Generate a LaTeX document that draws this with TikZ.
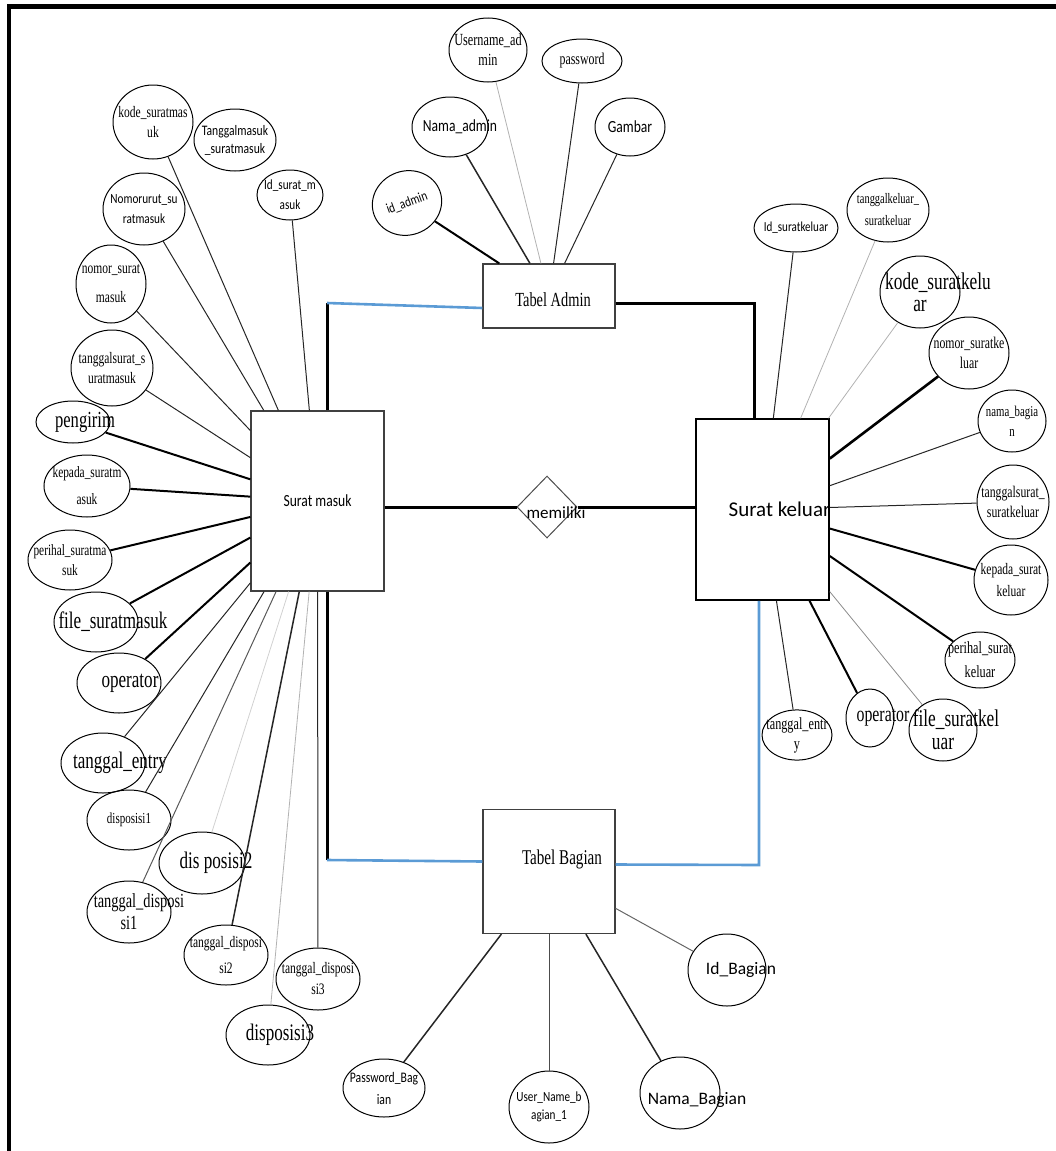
\documentclass[tikz,border=0pt]{standalone}
\usepackage{fontspec}
\setmainfont{Liberation Serif}
\newfontfamily\nserif[FakeStretch=0.72]{Liberation Serif}
\newfontfamily\nsans[FakeStretch=0.8]{Carlito}
\newfontfamily\wsans{Carlito}
\usetikzlibrary{shapes.geometric}
\definecolor{relblue}{HTML}{5B9BD5}
\newcommand{\fz}[2]{\fontsize{#1}{#2}\selectfont}
\newcommand{\lab}[1]{\makebox[0pt]{#1}}
\newcommand{\off}[3]{\makebox[0pt]{\hspace*{#1}\raisebox{#2}[\height][\depth]{#3}}}

\begin{document}
\begin{tikzpicture}[x=1pt,y=-1pt]
\useasboundingbox (0,0) rectangle (1056,1151);

\tikzstyle{attr}=[ellipse,draw,line width=1,inner sep=0pt,align=center]
\tikzstyle{entity}=[rectangle,draw=black!75,line width=1.2,inner sep=0pt]
\tikzstyle{ln}=[black!85,line width=1]
\tikzstyle{lnm}=[black!85,line width=1.5]
\tikzstyle{lnb}=[black,line width=2]
\tikzstyle{lnl}=[black!30,line width=0.8]
\tikzstyle{rel}=[black,line width=3]
\tikzstyle{relb}=[relblue,line width=2.6]

% frame
\draw[line width=4.5] (9,1151) -- (9,6.5) -- (1056,6.5);

% Tabel Admin
\node[entity,minimum width=132,minimum height=64,font={\nserif\fz{20}{22}}] (TA) at (549,296) {\off{8pt}{-4pt}{Tabel Admin}};
\node[attr,minimum width=70,minimum height=64,rotate=20,font={\nsans\fz{14}{16}}] (A1) at (407,203) {\lab{id\_admin}};
\draw[lnb] (A1) -- (TA);
\node[attr,minimum width=76,minimum height=60,font={\nsans\fz{17}{19}}] (A2) at (450,127) {\off{20pt}{0pt}{Nama\_admin}};
\draw[lnm] (A2) -- (TA);
\node[attr,minimum width=78,minimum height=64,font={\nserif\fz{17}{20}}] (A3) at (488,50) {\lab{Username\_ad}\\\lab{min}};
\draw[lnl] (A3) -- (TA);
\node[attr,minimum width=80,minimum height=44,font={\nserif\fz{16.5}{18}}] (A4) at (582,61) {\lab{password}};
\draw[ln] (A4) -- (TA);
\node[attr,minimum width=70,minimum height=58,font={\nsans\fz{17}{19}}] (A5) at (630,127) {\lab{Gambar}};
\draw[ln] (A5) -- (TA);

% Surat masuk
\node[entity,minimum width=133,minimum height=180,font={\nsans\fz{17}{19}}] (SM) at (317.5,501) {\lab{Surat masuk}};
\node[attr,minimum width=80,minimum height=74,font={\nserif\fz{16}{20}}] (M1) at (153,122) {\lab{kode\_suratmas}\\\lab{uk}};
\draw[ln] (M1) -- (SM);
\node[attr,minimum width=82,minimum height=62,font={\nsans\fz{14.5}{18}}] (M2) at (235,140) {\lab{Tanggalmasuk}\\\lab{\_suratmasuk}};
\node[attr,minimum width=66,minimum height=50,font={\nsans\fz{14}{20}}] (M3) at (290,195) {\lab{Id\_surat\_m}\\\lab{asuk}};
\draw[ln] (M3) -- (SM);
\node[attr,minimum width=82,minimum height=72,font={\nsans\fz{14}{20}}] (M4) at (144,209) {\lab{Nomorurut\_su}\\\lab{ratmasuk}};
\draw[ln] (M4) -- (SM);
\node[attr,minimum width=70,minimum height=78,font={\nserif\fz{16}{29}}] (M5) at (111,284) {\lab{nomor\_surat}\\\lab{masuk}};
\draw[ln] (M5) -- (SM);
\node[attr,minimum width=82,minimum height=76,font={\nserif\fz{16}{20}}] (M6) at (112,368) {\lab{tanggalsurat\_s}\\\lab{uratmasuk}};
\draw[ln] (M6) -- (SM);
\node[attr,minimum width=74,minimum height=42,font={\nserif\fz{23}{25}}] (M7) at (73,422) {\off{24pt}{0pt}{pengirim}};
\draw[lnb] (M7) -- (SM);
\node[attr,minimum width=86,minimum height=62,font={\nserif\fz{15.8}{27}}] (M8) at (87,486) {\lab{kepada\_suratm}\\\lab{asuk}};
\draw[lnb] (M8) -- (SM);
\node[attr,minimum width=84,minimum height=60,font={\nserif\fz{15.7}{20}}] (M9) at (70,560) {\lab{perihal\_suratma}\\\lab{suk}};
\draw[lnb] (M9) -- (SM);
\node[attr,minimum width=84,minimum height=60,font={\nserif\fz{23.7}{25}}] (M10) at (96,622) {\off{34pt}{0pt}{file\_suratmasuk}};
\draw[lnb] (M10) -- (SM);
\node[attr,minimum width=84,minimum height=60,font={\nserif\fz{23.7}{25}}] (M11) at (119,683) {\off{22pt}{0pt}{operator}};
\draw[lnb] (M11) -- (SM);
\node[attr,minimum width=84,minimum height=60,font={\nserif\fz{23.7}{25}}] (M12) at (103,763) {\off{34pt}{0pt}{tanggal\_entry}};
\draw[ln] (M12) -- (SM);
\node[attr,minimum width=84,minimum height=60,font={\nserif\fz{15.3}{18}}] (M13) at (129,820) {\lab{disposisi1}};
\draw[ln] (M13) -- (SM);
\node[attr,minimum width=86,minimum height=62,font={\nserif\fz{23.8}{25}}] (M14) at (202,863) {\off{28pt}{0pt}{dis posisi2}};
\draw[lnl,black!18] (M14) -- (SM);
\node[attr,minimum width=84,minimum height=62,font={\nserif\fz{20}{22}}] (M15) at (129,912) {\off{20pt}{0pt}{tanggal\_disposi}\\\lab{si1}};
\draw[ln,black!65] (M15) -- (SM);
\node[attr,minimum width=84,minimum height=60,font={\nserif\fz{16}{26}}] (M16) at (226,955) {\lab{tanggal\_disposi}\\\lab{si2}};
\draw[lnm] (M16) -- (SM);
\node[attr,minimum width=84,minimum height=62,font={\nserif\fz{16}{21}}] (M17) at (318,979) {\lab{tanggal\_disposi}\\\lab{si3}};
\draw[ln] (M17) -- (SM);
\node[attr,minimum width=84,minimum height=60,font={\nserif\fz{23.7}{25}}] (M18) at (268,1035) {\off{24pt}{0pt}{disposisi3}};
\draw[lnl] (M18) -- (SM);

% Surat keluar
\node[entity,draw=black,line width=1.5,minimum width=133,minimum height=181,font={\wsans\fz{21}{24}}] (SK) at (762.5,509.5) {\off{34pt}{0pt}{Surat keluar}};
\node[attr,minimum width=84,minimum height=48,font={\nsans\fz{13.8}{16}}] (K1) at (796,228) {\lab{Id\_suratkeluar}};
\draw[ln] (K1) -- (SK);
\node[attr,minimum width=82,minimum height=64,font={\nserif\fz{14.5}{22}}] (K2) at (888,210) {\lab{tanggalkeluar\_}\\\lab{suratkeluar}};
\draw[lnl] (K2) -- (SK);
\node[attr,minimum width=80,minimum height=72,font={\nserif\fz{24}{22}}] (K3) at (920,292) {\off{36pt}{0pt}{kode\_suratkelu}\\\lab{ar}};
\draw[lnl] (K3) -- (SK);
\node[attr,minimum width=80,minimum height=72,font={\nserif\fz{16.4}{20}}] (K4) at (969,353) {\lab{nomor\_suratke}\\\lab{luar}};
\draw[lnb,line width=2.6] (K4) -- (SK);
\node[attr,minimum width=68,minimum height=62,font={\nserif\fz{15}{20}}] (K5) at (1012,421) {\lab{nama\_bagia}\\\lab{n}};
\draw[ln] (K5) -- (SK);
\node[attr,minimum width=72,minimum height=74,font={\nserif\fz{16.3}{20}}] (K6) at (1013,502) {\lab{tanggalsurat\_}\\\lab{suratkeluar}};
\draw[ln] (K6) -- (SK);
\node[attr,minimum width=74,minimum height=70,font={\nserif\fz{16}{22}}] (K7) at (1011,580) {\lab{kepada\_surat}\\\lab{keluar}};
\draw[lnb] (K7) -- (SK);
\node[attr,minimum width=70,minimum height=56,font={\nserif\fz{17}{24}}] (K8) at (980,660) {\lab{perihal\_surat}\\\lab{keluar}};
\draw[lnb] (K8) -- (SK);
\node[attr,minimum width=48,minimum height=58,font={\nserif\fz{22}{24}}] (K10) at (870,718) {\off{26pt}{0pt}{operator}};
\draw[lnb] (K10) -- (SK);
\node[attr,minimum width=68,minimum height=62,font={\nserif\fz{24}{23}}] (K9) at (943,730) {\off{26pt}{0pt}{file\_suratkel}\\\lab{uar}};
\draw[lnl,black!45] (K9) -- (SK);
\node[attr,minimum width=70,minimum height=46,font={\nserif\fz{17}{20}}] (K11) at (797,735) {\lab{tanggal\_entr}\\\lab{y}};
\draw[ln] (K11) -- (SK);

% Tabel Bagian
\node[entity,minimum width=132,minimum height=124,font={\nserif\fz{21}{24}}] (TB) at (549,871.5) {\off{26pt}{12pt}{Tabel Bagian}};
\node[attr,minimum width=78,minimum height=72,font={\wsans\fz{17.5}{20}}] (B1) at (727,970) {\off{28pt}{0pt}{Id\_Bagian}};
\draw[ln,black!60] (B1) -- (TB);
\node[attr,minimum width=80,minimum height=72,font={\wsans\fz{17.5}{20}}] (B2) at (680,1093) {\off{34pt}{-7pt}{Nama\_Bagian}};
\draw[lnm] (B2) -- (TB);
\node[attr,minimum width=80,minimum height=72,font={\nsans\fz{14}{18}}] (B3) at (549,1107) {\lab{User\_Name\_b}\\\lab{agian\_1}};
\draw[ln,black!70] (B3) -- (TB);
\node[attr,minimum width=82,minimum height=58,font={\nsans\fz{14.6}{22}}] (B4) at (384,1088) {\lab{Password\_Bag}\\\lab{ian}};
\draw[lnm] (B4) -- (TB);

% memiliki
\node[diamond,draw=black!70,line width=1,minimum width=60,minimum height=62,inner sep=0pt,font={\wsans\fz{17}{19}}] (R) at (547,507) {\off{18pt}{-6pt}{memiliki}};

% relations
\coordinate (c1) at (327,303);
\coordinate (c2) at (754,303);
\coordinate (c3) at (327,860);
\coordinate (c4) at (759,865);
\draw[rel] (c1 |- SM.north) -- (c1);
\draw[relb] (c1) -- ([yshift=-12pt]TA.west);
\draw[rel] ([yshift=-7pt]TA.east) -- (c2) -- (c2 |- SK.north);
\draw[rel] (R -| SM.east) -- (R.west);
\draw[rel] (R.east) -- (R -| SK.west);
\draw[rel] (c3 |- SM.south) -- (c3);
\draw[relb] (c3) -- ([yshift=10pt]TB.west);
\draw[relb] ([yshift=7pt]TB.east) -- (c4) -- (c4 |- SK.south);
\end{tikzpicture}
\end{document}
